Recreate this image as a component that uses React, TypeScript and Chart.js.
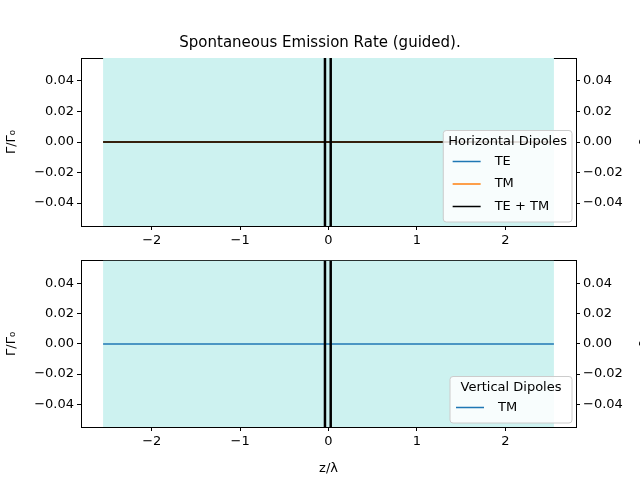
import React, { useEffect, useRef } from 'react';
import Chart from 'chart.js/auto';

const zRange = [-2.55, 2.55];
const teTop = [0, 0];
const tmTop = [0, 0];
const sumTop = [0, 0];
const tmBottom = [0, 0];
const shadeRange = [-2.55, 2.55];
const wallLines = [-0.04, 0.025];
const yTicks = [-0.04, -0.02, 0, 0.02, 0.04];
const xTicks = [-2, -1, 0, 1, 2];

const FONT = 'DejaVu Sans';

type LegendItem = { label: string; color: string };

function makeDecor(legendTitle: string, items: LegendItem[]) {
    return {
        id: 'decor',
        beforeDatasetsDraw(chart: any) {
            const { ctx, chartArea: a, scales } = chart;
            const x = scales.x;
            ctx.save();
            ctx.fillStyle = '#cdf2f0';
            const x0 = x.getPixelForValue(shadeRange[0]);
            const x1 = x.getPixelForValue(shadeRange[1]);
            ctx.fillRect(x0, a.top, x1 - x0, a.bottom - a.top);
            ctx.restore();
        },
        afterDatasetsDraw(chart: any) {
            const { ctx, chartArea: a, scales } = chart;
            ctx.save();
            ctx.strokeStyle = '#000';
            ctx.lineWidth = 2.5;
            wallLines.forEach((v) => {
                const px = scales.x.getPixelForValue(v);
                ctx.beginPath();
                ctx.moveTo(px, a.top);
                ctx.lineTo(px, a.bottom);
                ctx.stroke();
            });
            ctx.restore();
        },
        afterDraw(chart: any) {
            const { ctx, chartArea: a } = chart;
            ctx.save();
            ctx.font = `13px ${FONT}`;
            const rowH = 22.5;
            const boxH = 24 + items.length * rowH;
            const titleW = ctx.measureText(legendTitle).width;
            const boxW = Math.max(titleW + 10, 122);
            const bx = a.right - 4 - boxW;
            const by = a.bottom - 4 - boxH;
            ctx.fillStyle = 'rgba(255,255,255,0.85)';
            ctx.strokeStyle = '#ccc';
            ctx.lineWidth = 1;
            ctx.beginPath();
            ctx.roundRect(bx, by, boxW, boxH, 3);
            ctx.fill();
            ctx.stroke();
            ctx.fillStyle = '#000';
            ctx.textAlign = 'center';
            ctx.textBaseline = 'middle';
            ctx.fillText(legendTitle, bx + boxW / 2, by + 11);
            items.forEach((it, i) => {
                const yy = by + 31 + i * rowH;
                const lx = bx + (boxW - 118) / 2 + 4;
                ctx.strokeStyle = it.color;
                ctx.lineWidth = 1.5;
                ctx.beginPath();
                ctx.moveTo(lx, yy);
                ctx.lineTo(lx + 28, yy);
                ctx.stroke();
                ctx.textAlign = 'left';
                ctx.fillStyle = '#000';
                ctx.fillText(it.label, lx + 42, yy);
            });
            ctx.translate(chart.width + 3, (a.top + a.bottom) / 2);
            ctx.rotate(-Math.PI / 2);
            ctx.textAlign = 'center';
            ctx.fillText('ρ', 0, 0);
            ctx.restore();
        },
    };
}

const fmtY = (v: number) => (v < 0 ? '\u2212' + Math.abs(v).toFixed(2) : v.toFixed(2));

function makeOptions(top: number, xHeight: number, showXTitle: boolean, title?: string): any {
    const tick = { color: '#000', font: { family: FONT, size: 13 } };
    const grid = { drawOnChartArea: false, tickLength: 4, color: '#000' };
    return {
        animation: false,
        responsive: false,
        layout: { padding: { top, left: 0, right: 0, bottom: 0 } },
        plugins: {
            legend: { display: false },
            tooltip: { enabled: false },
            title: title
                ? { display: true, text: title, color: '#000', font: { family: FONT, size: 15, weight: 'normal' }, padding: { top: 0, bottom: 6 } }
                : { display: false },
        },
        elements: { point: { radius: 0 }, line: { borderWidth: 1.5 } },
        scales: {
            x: {
                type: 'linear',
                min: -2.8,
                max: 2.8,
                afterBuildTicks: (s: any) => { s.ticks = xTicks.map((v) => ({ value: v })); },
                afterFit: (s: any) => { s.height = xHeight; },
                ticks: { ...tick, callback: (v: number) => (v < 0 ? '\u2212' + Math.abs(v) : String(v)) },
                grid,
                border: { color: '#000' },
                title: { display: showXTitle, text: 'z/λ', color: '#000', font: { family: FONT, size: 13 }, padding: { top: 0 } },
            },
            x2: {
                type: 'linear', position: 'top', min: -2.8, max: 2.8,
                ticks: { display: false }, grid: { display: false }, border: { color: '#000' },
                afterFit: (s: any) => { s.height = 0; },
            },
            y: {
                min: -0.055,
                max: 0.055,
                afterBuildTicks: (s: any) => { s.ticks = yTicks.map((v) => ({ value: v })); },
                afterFit: (s: any) => { s.width = 81; },
                ticks: { ...tick, callback: fmtY },
                grid,
                border: { color: '#000' },
                title: { display: true, text: 'Γ/Γ₀', color: '#000', font: { family: FONT, size: 13 }, padding: { top: 4, bottom: 0 } },
            },
            y2: {
                position: 'right',
                min: -0.055,
                max: 0.055,
                afterBuildTicks: (s: any) => { s.ticks = yTicks.map((v) => ({ value: v })); },
                afterFit: (s: any) => { s.width = 64; },
                ticks: { ...tick, callback: fmtY },
                grid,
                border: { color: '#000' },
            },
        },
    };
}

const pts = (ys: number[]) => ys.map((y, i) => ({ x: zRange[i], y }));

const App: React.FC = () => {
    const topRef = useRef<HTMLCanvasElement | null>(null);
    const bottomRef = useRef<HTMLCanvasElement | null>(null);

    useEffect(() => {
        document.body.style.margin = '0';
        const top = new Chart(topRef.current!, {
            type: 'line',
            data: {
                datasets: [
                    { label: 'TE', data: pts(teTop), borderColor: '#1f77b4', order: 2 },
                    { label: 'TM', data: pts(tmTop), borderColor: '#ff7f0e', order: 1 },
                    { label: 'TE + TM', data: pts(sumTop), borderColor: '#000000', order: 0 },
                ],
            },
            options: makeOptions(34, 24, false, 'Spontaneous Emission Rate (guided).'),
            plugins: [makeDecor('Horizontal Dipoles', [
                { label: 'TE', color: '#1f77b4' },
                { label: 'TM', color: '#ff7f0e' },
                { label: 'TE + TM', color: '#000000' },
            ])],
        });
        const bottom = new Chart(bottomRef.current!, {
            type: 'line',
            data: { datasets: [{ label: 'TM', data: pts(tmBottom), borderColor: '#1f77b4' }] },
            options: makeOptions(9, 53, true),
            plugins: [makeDecor('Vertical Dipoles', [{ label: 'TM', color: '#1f77b4' }])],
        });
        return () => {
            top.destroy();
            bottom.destroy();
        };
    }, []);

    return (
        <div style={{ position: 'relative', width: 640, height: 480, background: '#fff' }}>
            <canvas ref={topRef} width={640} height={250} style={{ position: 'absolute', left: 0, top: 0 }} />
            <canvas ref={bottomRef} width={640} height={230} style={{ position: 'absolute', left: 0, top: 250 }} />
        </div>
    );
};

export default App;
